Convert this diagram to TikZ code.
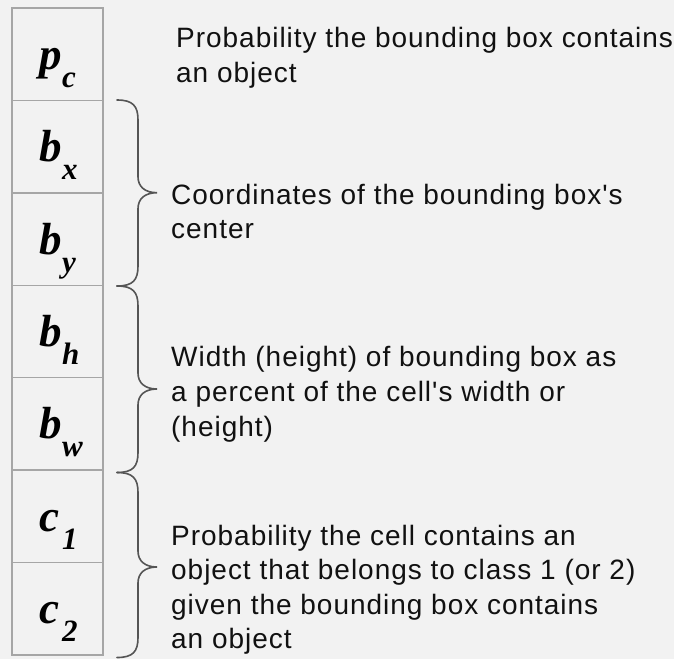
\documentclass[tikz,border=0pt]{standalone}
\usepackage{fontspec}
\setmainfont{Liberation Sans}
\newfontfamily\symfamily{Liberation Serif}
\newfontfamily\descfamily[LetterSpace=3.5]{Liberation Sans}
\definecolor{bg}{HTML}{F2F2F2}
\definecolor{cellgray}{HTML}{A6A6A6}
\definecolor{bracegray}{HTML}{555555}
\definecolor{ink}{HTML}{111111}

% curly brace: top y, tip y, bottom y
\newcommand\curlybrace[3]{%
  \draw[bracestyle] (117,#1) .. controls (133,#1) and (138,#1+6) .. (138,#1+20)
    -- (138,#2-16) .. controls (138,#2-6) and (145,#2) .. (157,#2)
    .. controls (145,#2) and (138,#2+6) .. (138,#2+16)
    -- (138,#3-20) .. controls (138,#3-6) and (133,#3) .. (117,#3);}

\begin{document}
\begin{tikzpicture}[x=1pt,y=-1pt,
  cell/.style={draw=cellgray, line width=1.4pt, fill=bg,
    minimum width=91pt, minimum height=92.43pt, inner sep=0pt},
  sym/.style={inner sep=0pt, anchor=base west,
    font=\symfamily\fontsize{45}{45}\selectfont\bfseries\itshape},
  subsym/.style={inner sep=0pt, anchor=base west,
    font=\symfamily\fontsize{31}{31}\selectfont\bfseries\itshape},
  desc/.style={inner sep=0pt, anchor=base west, text=ink,
    font=\descfamily\fontsize{28}{34}\selectfont},
  bracestyle/.style={draw=bracegray, line width=1.6pt, line cap=round}]

\fill[bg] (0,0) rectangle (674,659);
\useasboundingbox (0,0) rectangle (674,659);

% column of vector cells
\foreach \k/\m/\s in {1/p/c, 2/b/x, 3/b/y, 4/b/h, 5/b/w, 6/c/1, 7/c/2} {
  \node[cell] (cell\k) at (57.5, {8+92.43*(\k-0.5)}) {};
  \node[sym] (main\k) at ([shift={(-18.5,15)}]cell\k.center) {\m};
  \node[subsym] (sub\k) at ([shift={(4.5,33)}]cell\k.center) {\s};
}

% braces grouping the cells
\curlybrace{100}{192.7}{286}
\curlybrace{286}{389}{472.5}
\curlybrace{472.5}{567}{657.5}

% descriptions
\node[desc] (d1a) at (176,47.7) {Probability the bounding box contains};
\node[desc] (d1b) at (176,82.7) {an object};

\node[desc] (d2a) at (171,204) {Coordinates of the bounding box's};
\node[desc] (d2b) at (171,238.5) {center};

\node[desc] (d3a) at (171,366.7) {Width (height) of bounding box as};
\node[desc] (d3b) at (171,401.5) {a percent of the cell's width or};
\node[desc] (d3c) at (171,436.3) {(height)};

\node[desc] (d4a) at (171,545) {Probability the cell contains an};
\node[desc] (d4b) at (171,579.5) {object that belongs to class 1 (or 2)};
\node[desc] (d4c) at (171,614) {given the bounding box contains};
\node[desc] (d4d) at (171,648.3) {an object};
\end{tikzpicture}
\end{document}
